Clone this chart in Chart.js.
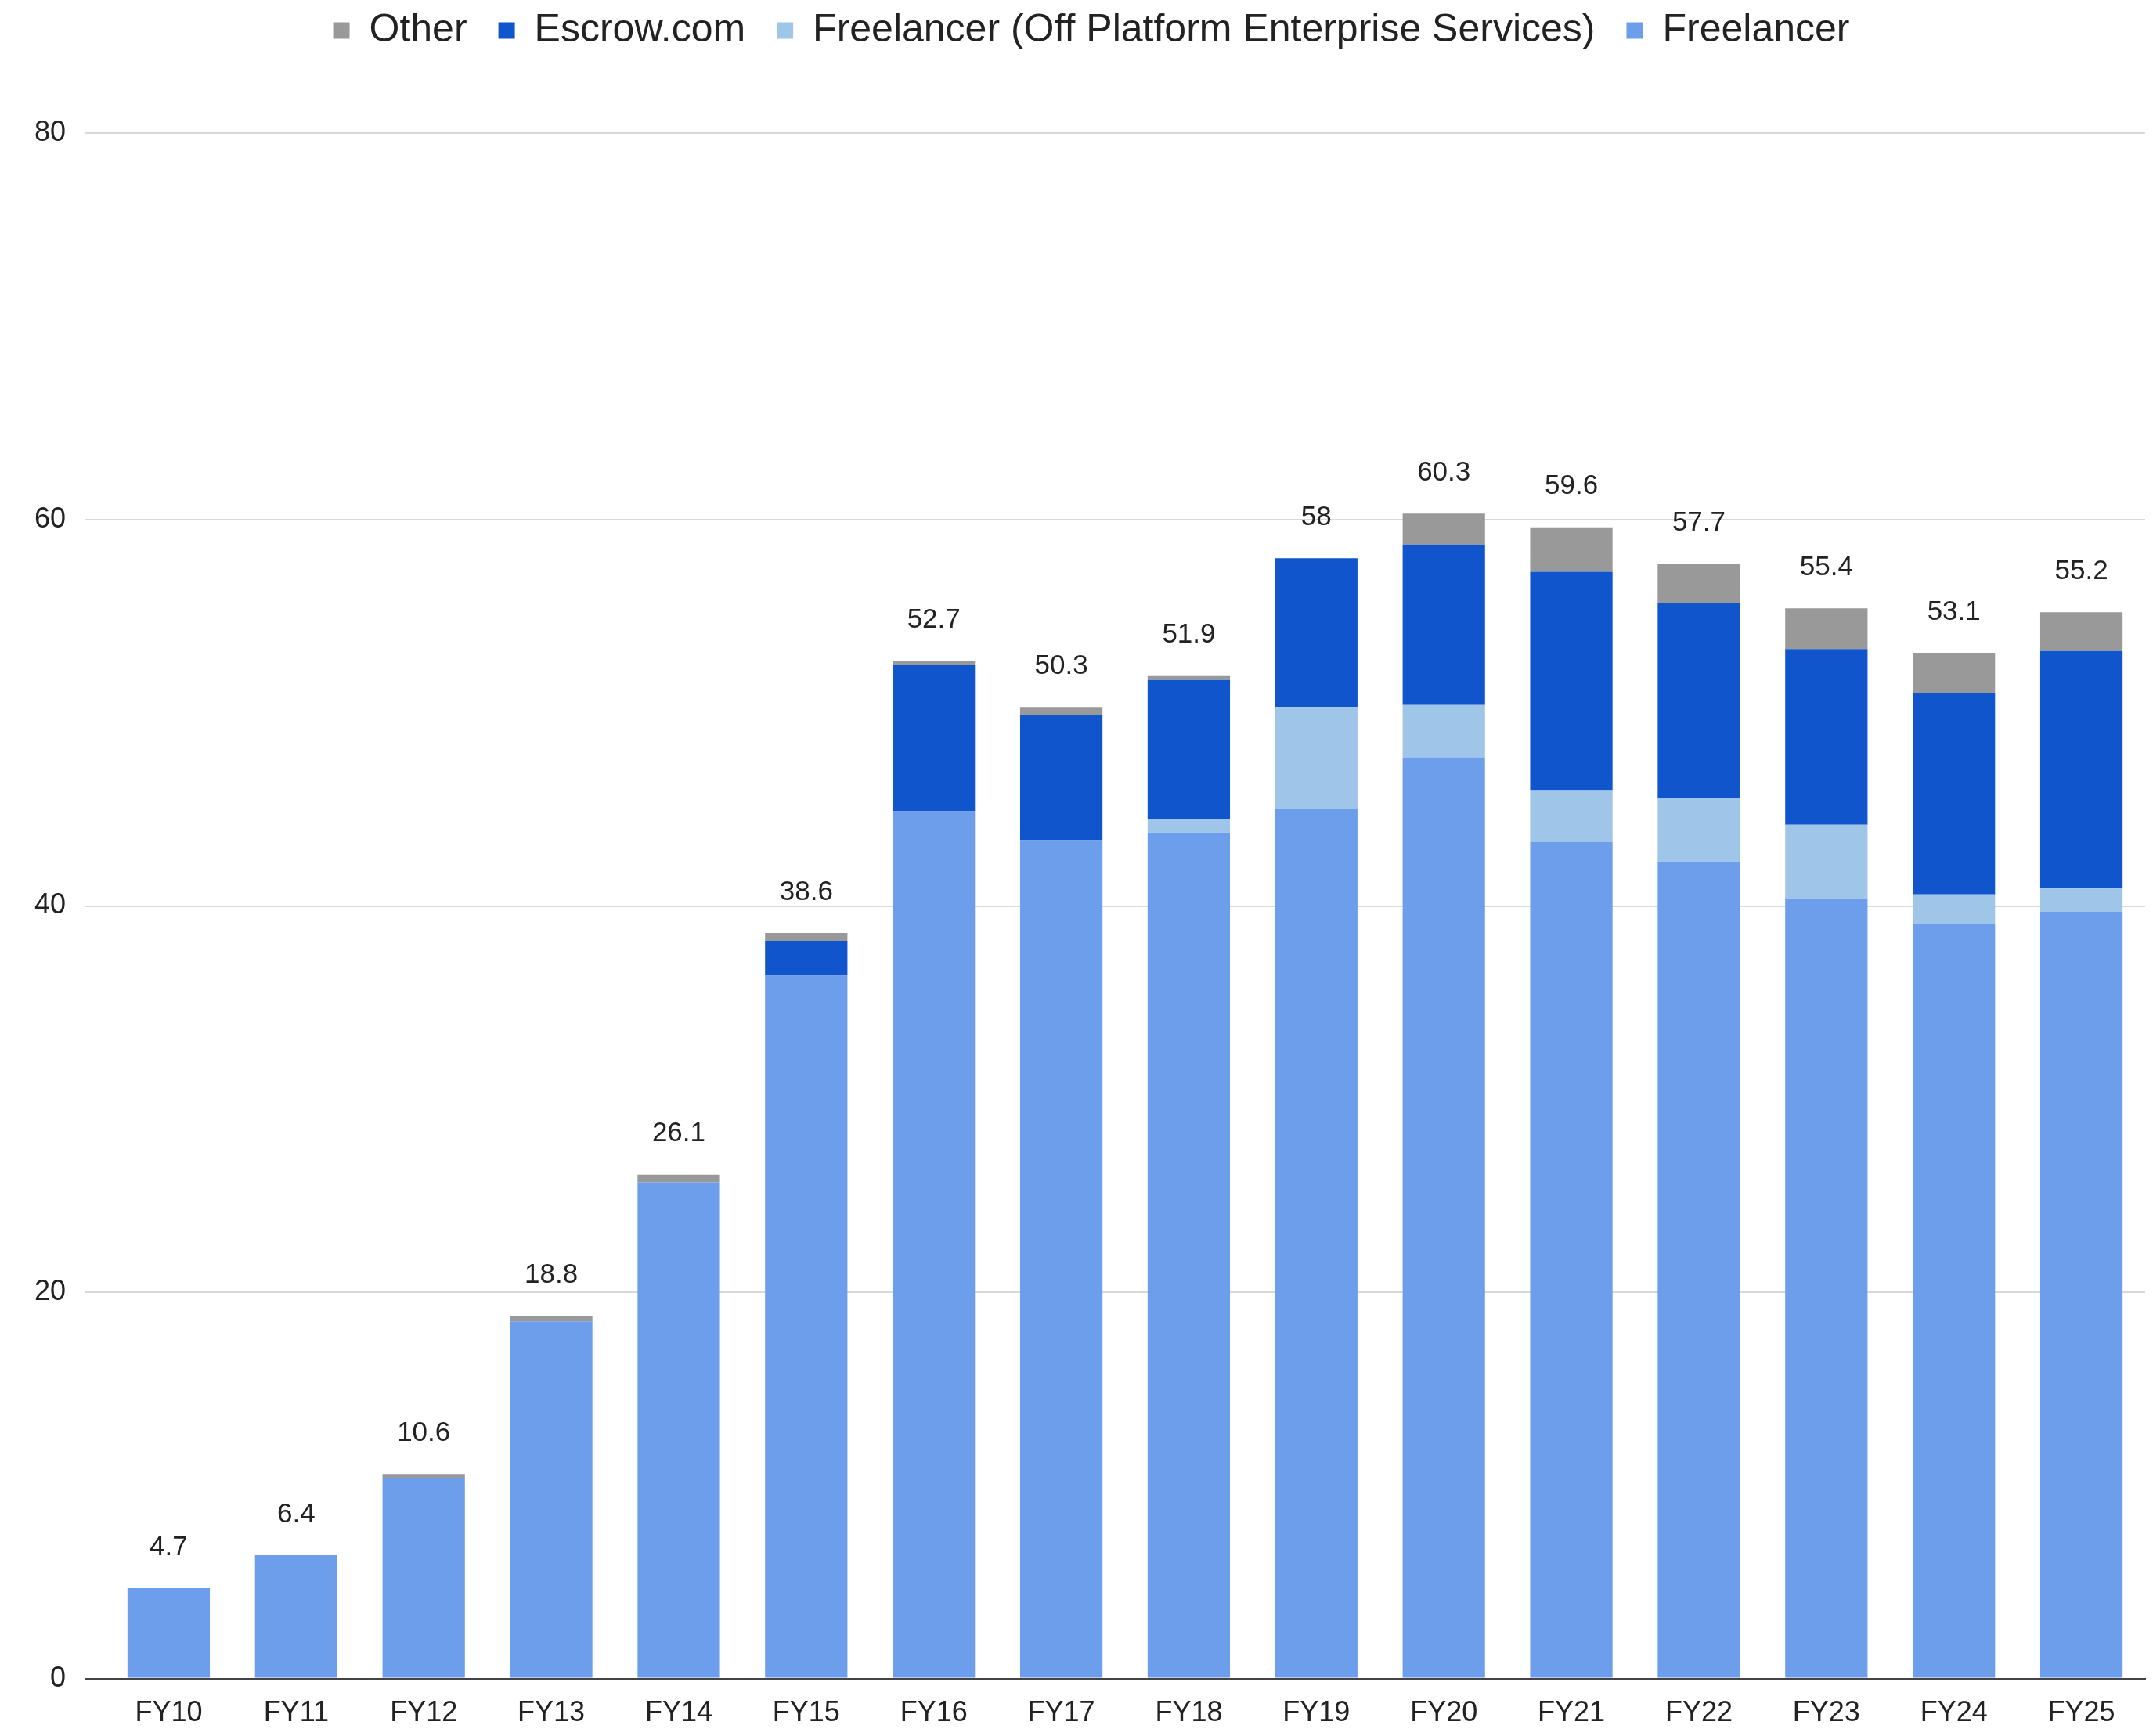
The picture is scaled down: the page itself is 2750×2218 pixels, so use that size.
<!DOCTYPE html>
<html>
<head>
<meta charset="utf-8">
<script src="https://cdn.jsdelivr.net/npm/chart.js@4"></script>
<style>
  html, body { margin: 0; padding: 0; background: #ffffff; }
  #wrap { width: 2750px; height: 2218px; position: relative; }
</style>
</head>
<body>
<div id="wrap"><canvas id="c" width="2750" height="2218"></canvas></div>
<script>
const categories = ['FY10','FY11','FY12','FY13','FY14','FY15','FY16','FY17','FY18','FY19','FY20','FY21','FY22','FY23','FY24','FY25'];
const freelancer = [4.7, 6.4, 10.4, 18.5, 25.7, 36.4, 44.9, 43.4, 43.8, 45.0, 47.7, 43.3, 42.3, 40.4, 39.1, 39.7];
const offPlatform = [0, 0, 0, 0, 0, 0, 0, 0, 0.7, 5.3, 2.7, 2.7, 3.3, 3.8, 1.5, 1.2];
const escrow = [0, 0, 0, 0, 0, 1.8, 7.6, 6.5, 7.2, 7.7, 8.3, 11.3, 10.1, 9.1, 10.4, 12.3];
const other = [0, 0, 0.2, 0.3, 0.4, 0.4, 0.2, 0.4, 0.2, 0, 1.6, 2.3, 2.0, 2.1, 2.1, 2.0];
const totalLabels = ['4.7','6.4','10.6','18.8','26.1','38.6','52.7','50.3','51.9','58','60.3','59.6','57.7','55.4','53.1','55.2'];
const yTicks = [0, 20, 40, 60, 80];

const FONT = "'Liberation Sans', Arial, sans-serif";

const legendSpacer = {
  id: 'legendSpacer',
  beforeLayout(chart) {
    const lg = chart.legend;
    if (lg && !lg._patched) {
      const fit = lg.fit;
      lg.fit = function() { fit.call(this); this.height += 70; };
      lg._patched = true;
    }
  },
  afterLayout(chart) {
    const lg = chart.legend;
    if (lg) { lg.top -= 26; lg.bottom -= 26; lg.left += 24; lg.right += 24; }
  }
};

const totalsPlugin = {
  id: 'totals',
  afterDatasetsDraw(chart) {
    const ctx = chart.ctx;
    const xs = chart.scales.x, ys = chart.scales.y;
    ctx.save();
    ctx.font = '35px ' + FONT;
    ctx.fillStyle = '#222222';
    ctx.textAlign = 'center';
    ctx.textBaseline = 'middle';
    categories.forEach((c, i) => {
      const tot = freelancer[i] + offPlatform[i] + escrow[i] + other[i];
      const x = xs.getPixelForValue(i);
      const y = ys.getPixelForValue(tot);
      ctx.fillText(totalLabels[i], x, y - 52);
    });
    ctx.restore();
  }
};

new Chart(document.getElementById('c'), {
  type: 'bar',
  data: {
    labels: categories,
    datasets: [
      { label: 'Freelancer', data: freelancer, backgroundColor: '#6d9eeb' },
      { label: 'Freelancer (Off Platform Enterprise Services)', data: offPlatform, backgroundColor: '#9fc5e8' },
      { label: 'Escrow.com', data: escrow, backgroundColor: '#1155cc' },
      { label: 'Other', data: other, backgroundColor: '#999999' }
    ]
  },
  options: {
    responsive: false,
    animation: false,
    devicePixelRatio: 1,
    layout: { padding: { top: 0, right: 10, bottom: 0, left: 0 } },
    datasets: { bar: { categoryPercentage: 1.0, barPercentage: 0.646, borderWidth: 0 } },
    plugins: {
      legend: {
        display: true,
        position: 'top',
        reverse: true,
        labels: {
          font: { family: FONT, size: 50 },
          color: '#222222',
          boxWidth: 21,
          boxHeight: 21,
          padding: 40
        }
      },
      tooltip: { enabled: false }
    },
    scales: {
      x: {
        stacked: true,
        grid: { display: false, drawTicks: false },
        border: { display: true, color: '#444444', width: 3 },
        ticks: { font: { family: FONT, size: 36 }, color: '#222222', padding: 22, maxRotation: 0, autoSkip: false },
        afterFit(s) { s.height = 73; }
      },
      y: {
        stacked: true,
        min: 0,
        max: 80,
        afterBuildTicks(s) { s.ticks = yTicks.map(v => ({ value: v })); },
        grid: {
          color: (c) => (c.tick && c.tick.value === 0) ? '#444444' : '#d9d9d9',
          lineWidth: (c) => (c.tick && c.tick.value === 0) ? 3 : 2,
          drawTicks: true,
          tickLength: 25
        },
        border: { display: false },
        ticks: { font: { family: FONT, size: 36 }, color: '#222222', padding: 25 },
        afterFit(s) { s.width = 134; }
      }
    }
  },
  plugins: [legendSpacer, totalsPlugin]
});
</script>
</body>
</html>
